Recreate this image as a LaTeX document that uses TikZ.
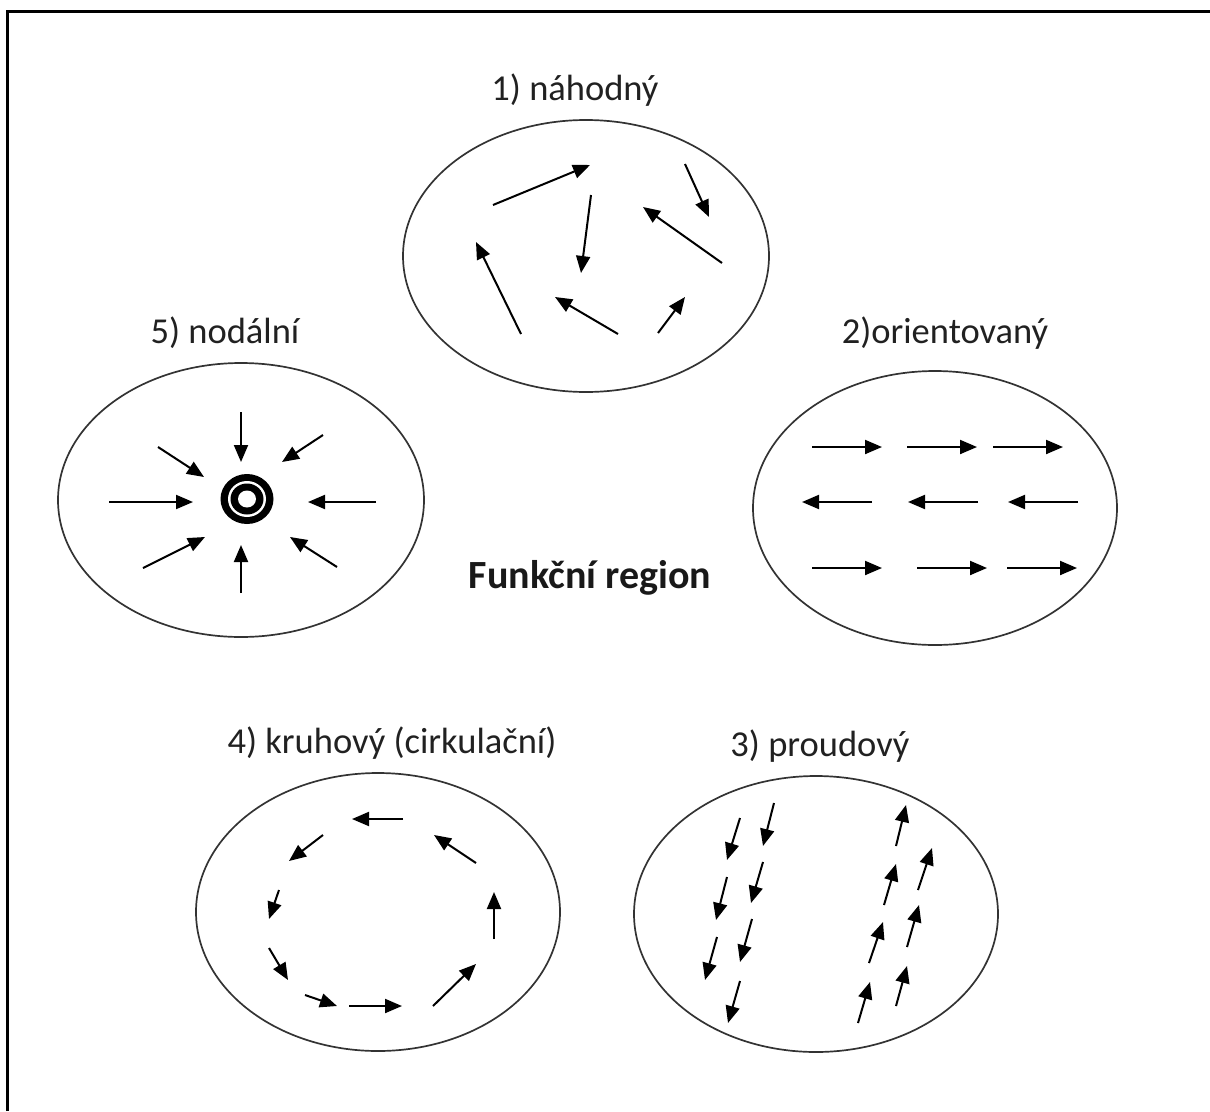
\documentclass[tikz,border=0pt]{standalone}
\usepackage{fontspec}
\setmainfont{Carlito}
\usetikzlibrary{arrows.meta}
\tikzset{
  arr/.style={line width=2pt, -{Triangle[length=17pt,width=14pt]}},
  region/.style={line width=1.7pt, draw=black!80},
  lbl/.style={font=\fontsize{36.5}{42}\selectfont, text=black!87, inner sep=0pt},
}
\begin{document}
\begin{tikzpicture}[x=1pt,y=-1pt]
\useasboundingbox (0,0) rectangle (1210,1111);
% frame
\draw[line width=3pt] (7,1111) -- (7,11) -- (1210,11);

% 1) nahodny
\node[lbl] (l1) at (575,90) {1) náhodný};
\draw[region] (586,256) ellipse [x radius=183, y radius=136];
\draw[arr] (493,205) -- (590,165);
\draw[arr] (591,195) -- (581,273);
\draw[arr] (685,164) -- (709,217);
\draw[arr] (722,263) -- (643,207);
\draw[arr] (521,334) -- (476,242);
\draw[arr] (618,334) -- (555,297);
\draw[arr] (658,333) -- (685,297);

% 5) nodalni
\node[lbl] (l5) at (225,333) {5) nodální};
\draw[region] (241,500) ellipse [x radius=183, y radius=137];
\fill[black] (247,499) ellipse [x radius=26.5, y radius=25];
\fill[white] (247,499) ellipse [x radius=19, y radius=18];
\fill[black] (247,499) ellipse [x radius=16.5, y radius=15.5];
\fill[white] (247,499) ellipse [x radius=9, y radius=8.5];
\draw[arr] (241,412) -- (241,462);
\draw[arr] (323,435) -- (282,462);
\draw[arr] (376,502) -- (308,502);
\draw[arr] (337,567) -- (290,537);
\draw[arr] (241,593) -- (241,545);
\draw[arr] (143,568) -- (205,537);
\draw[arr] (109,502) -- (193,502);
\draw[arr] (158,447) -- (204,477);

% 2) orientovany
\node[lbl] (l2) at (945,333) {2)orientovaný};
\draw[region] (935,508) ellipse [x radius=182, y radius=137];
\draw[arr] (812,447) -- (882,447);
\draw[arr] (907,447) -- (977,447);
\draw[arr] (993,447) -- (1063,447);
\draw[arr] (872,502) -- (802,502);
\draw[arr] (978,502) -- (908,502);
\draw[arr] (1078,502) -- (1008,502);
\draw[arr] (812,568) -- (882,568);
\draw[arr] (917,568) -- (987,568);
\draw[arr] (1007,568) -- (1077,568);

% Funkcni region
\node[font=\fontsize{40}{46}\selectfont\bfseries, text=black!90, inner sep=0pt] (fr) at (590,578) {Funkční region};

% 4) kruhovy
\node[lbl] (l4) at (392,743) {4) kruhový (cirkulační)};
\draw[region] (378,912) ellipse [x radius=182, y radius=139];
\draw[arr] (403,819) -- (352,819);
\draw[arr] (323,835) -- (289,861);
\draw[arr] (279,890) -- (269,919);
\draw[arr] (269,948) -- (288,980);
\draw[arr] (305,995) -- (337,1006);
\draw[arr] (349,1006) -- (402,1006);
\draw[arr] (433,1006) -- (476,964);
\draw[arr] (494,939) -- (494,892);
\draw[arr] (476,863) -- (434,835);

% 3) proudovy
\node[lbl] (l3) at (820,746) {3) proudový};
\draw[region] (816,914) ellipse [x radius=182, y radius=138];
\draw[arr] (740,818) -- (727,860);
\draw[arr] (774,803) -- (763,846);
\draw[arr] (727,877) -- (716,920);
\draw[arr] (763,862) -- (751,903);
\draw[arr] (717,937) -- (705,980);
\draw[arr] (752,919) -- (740,962);
\draw[arr] (740,981) -- (728,1023);
\draw[arr] (896,846) -- (906,805);
\draw[arr] (884,905) -- (896,864);
\draw[arr] (918,890) -- (932,848);
\draw[arr] (869,963) -- (883,922);
\draw[arr] (907,947) -- (919,905);
\draw[arr] (858,1023) -- (870,982);
\draw[arr] (896,1006) -- (907,966);
\end{tikzpicture}
\end{document}
